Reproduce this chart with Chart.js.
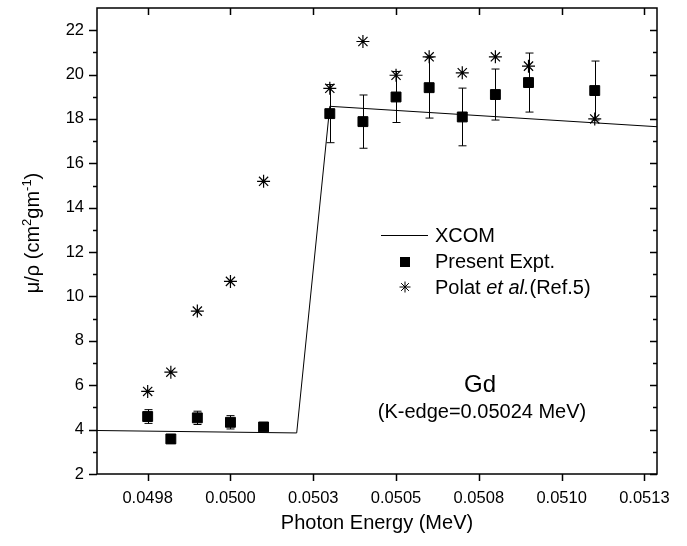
<!DOCTYPE html>
<html>
<head>
<meta charset="utf-8">
<script src="https://cdn.jsdelivr.net/npm/chart.js@4"></script>
<style>
  body { margin: 0; background: #fff; }
</style>
</head>
<body>
<canvas id="chart" width="687" height="546"></canvas>
<script>
// XCOM theory line
const xcomX = [0.049597, 0.05020, 0.05030, 0.051288]
const xcomY = [3.96, 3.85, 18.57, 17.65]

// present experiment
const presentX = [0.04975, 0.04982, 0.04990, 0.05000, 0.05010, 0.05030, 0.05040, 0.05050, 0.05060, 0.05070, 0.05080, 0.05090, 0.05110]
const presentY = [4.59, 3.58, 4.53, 4.33, 4.12, 18.24, 17.88, 18.99, 19.41, 18.09, 19.10, 19.64, 19.28]
const presentErr = [0.31, 0.2, 0.3, 0.3, 0.15, 1.31, 1.2, 1.15, 1.37, 1.3, 1.15, 1.33, 1.33]

// Polat et al. (Ref.5)
const polatX = presentX
const polatY = [5.72, 6.59, 9.34, 10.68, 15.19, 19.38, 21.49, 19.97, 20.8, 20.08, 20.8, 20.38, 18.0]

const xTicks = [0.04975, 0.05000, 0.05025, 0.05050, 0.05075, 0.05100, 0.05125]
const xTickLabels = ["0.0498", "0.0500", "0.0503", "0.0505", "0.0508", "0.0510", "0.0513"]
const yTicks = [2, 4, 6, 8, 10, 12, 14, 16, 18, 20, 22]
const yMinorTicks = [3, 5, 7, 9, 11, 13, 15, 17, 19, 21]

const FONT = "'Liberation Sans', Arial, sans-serif"

function pts(xs, ys) {
    return xs.map((v, i) => ({x: v, y: ys[i]}))
}

// frame, mirror ticks, error bars, legend and labels
const decorations = {
    id: "decorations",
    beforeDatasetsDraw(chart) {
        const {ctx, scales: {x, y}} = chart
        ctx.save()
        ctx.strokeStyle = "#000"
        ctx.lineWidth = 1
        presentX.forEach((v, i) => {
            const px = Math.round(x.getPixelForValue(v)) + 0.5
            const top = y.getPixelForValue(presentY[i] + presentErr[i])
            const bot = y.getPixelForValue(presentY[i] - presentErr[i])
            ctx.beginPath()
            ctx.moveTo(px, top); ctx.lineTo(px, bot)
            ctx.moveTo(px - 4, top); ctx.lineTo(px + 4, top)
            ctx.moveTo(px - 4, bot); ctx.lineTo(px + 4, bot)
            ctx.stroke()
        })
        ctx.restore()
    },
    afterDraw(chart) {
        const {ctx, chartArea: a, scales: {x, y}} = chart
        ctx.save()
        ctx.strokeStyle = "#000"
        ctx.lineWidth = 1.5
        ctx.strokeRect(a.left, a.top, a.right - a.left, a.bottom - a.top)

        ctx.beginPath()
        xTicks.forEach(v => {
            const px = Math.round(x.getPixelForValue(v)) + 0.5
            ctx.moveTo(px, a.bottom); ctx.lineTo(px, a.bottom + 7)
            ctx.moveTo(px, a.top); ctx.lineTo(px, a.top + 7)
        })
        yTicks.forEach(v => {
            const py = Math.round(y.getPixelForValue(v)) + 0.5
            ctx.moveTo(a.left - 8, py); ctx.lineTo(a.left, py)
            ctx.moveTo(a.right, py); ctx.lineTo(a.right - 7, py)
        })
        yMinorTicks.forEach(v => {
            const py = Math.round(y.getPixelForValue(v)) + 0.5
            ctx.moveTo(a.left - 4, py); ctx.lineTo(a.left, py)
            ctx.moveTo(a.right, py); ctx.lineTo(a.right - 4, py)
        })
        ctx.stroke()

        // y title with superscripts
        ctx.fillStyle = "#000"
        ctx.translate(32, 233)
        ctx.rotate(-Math.PI / 2)
        const parts = [["μ/ρ (cm", 20, 0], ["2", 13, -8], ["gm", 20, 0], ["-1", 13, -8], [")", 20, 0]]
        ctx.textBaseline = "alphabetic"
        let w = 0
        parts.forEach(p => { ctx.font = p[1] + "px " + FONT; w += ctx.measureText(p[0]).width })
        let cx = -w / 2
        parts.forEach(p => {
            ctx.font = p[1] + "px " + FONT
            ctx.fillText(p[0], cx, 7 + p[2])
            cx += ctx.measureText(p[0]).width
        })
        ctx.setTransform(1, 0, 0, 1, 0, 0)

        // legend
        ctx.lineWidth = 1
        ctx.beginPath()
        ctx.moveTo(381, 235.5); ctx.lineTo(428, 235.5)
        ctx.stroke()
        ctx.fillRect(400, 257, 10, 10)
        ctx.beginPath()
        const sx = 405, sy = 287, r = 5.5
        ctx.moveTo(sx - r, sy); ctx.lineTo(sx + r, sy)
        ctx.moveTo(sx, sy - r); ctx.lineTo(sx, sy + r)
        const d = r * Math.SQRT1_2
        ctx.moveTo(sx - d, sy - d); ctx.lineTo(sx + d, sy + d)
        ctx.moveTo(sx - d, sy + d); ctx.lineTo(sx + d, sy - d)
        ctx.stroke()

        ctx.textBaseline = "middle"
        ctx.textAlign = "left"
        ctx.font = "20px " + FONT
        ctx.fillText("XCOM", 435, 236)
        ctx.fillText("Present Expt.", 435, 262)
        let tx = 435
        const seg = [["Polat ", "20px "], ["et al.", "italic 20px "], ["(Ref.5)", "20px "]]
        seg.forEach(s => {
            ctx.font = s[1] + FONT
            ctx.fillText(s[0], tx, 288)
            tx += ctx.measureText(s[0]).width
        })

        ctx.textAlign = "center"
        ctx.font = "24px " + FONT
        ctx.fillText("Gd", 480, 385)
        ctx.font = "20px " + FONT
        ctx.fillText("(K-edge=0.05024 MeV)", 482, 412)
        ctx.restore()
    }
}

new Chart(document.getElementById("chart").getContext("2d"), {
    type: "scatter",
    data: {
        datasets: [
            {
                label: "XCOM",
                data: pts(xcomX, xcomY),
                showLine: true,
                pointRadius: 0,
                borderColor: "#000",
                borderWidth: 1
            },
            {
                label: "Present Expt.",
                data: pts(presentX, presentY),
                pointStyle: "rect",
                pointRadius: 7,
                backgroundColor: "#000",
                borderColor: "#000",
                borderWidth: 1
            },
            {
                label: "Polat et al.(Ref.5)",
                data: pts(polatX, polatY),
                pointStyle: "star",
                pointRadius: 6.5,
                backgroundColor: "#000",
                borderColor: "#000",
                borderWidth: 1.2
            }
        ]
    },
    options: {
        responsive: false,
        animation: false,
        layout: { padding: { top: 8, right: 30, left: 0, bottom: 0 } },
        plugins: {
            legend: { display: false },
            tooltip: { enabled: false }
        },
        scales: {
            x: {
                type: "linear",
                min: 0.049597,
                max: 0.051288,
                afterFit: s => { s.height = 72; s.paddingLeft = 0; s.paddingRight = 0 },
                afterBuildTicks: s => { s.ticks = xTicks.map(v => ({value: v})) },
                grid: { display: true, drawOnChartArea: false, drawTicks: false },
                border: { display: false },
                ticks: {
                    padding: 15,
                    color: "#000",
                    font: { family: FONT, size: 16.5 },
                    maxRotation: 0,
                    autoSkip: false,
                    callback: (v, i) => xTickLabels[i]
                },
                title: {
                    display: true,
                    text: "Photon Energy (MeV)",
                    color: "#000",
                    font: { family: FONT, size: 20 },
                    padding: { top: 0, bottom: 11 }
                }
            },
            y: {
                min: 2,
                max: 23,
                afterFit: s => { s.width = 97; s.paddingTop = 0; s.paddingBottom = 0 },
                afterBuildTicks: s => { s.ticks = yTicks.map(v => ({value: v})) },
                grid: { display: true, drawOnChartArea: false, drawTicks: false },
                border: { display: false },
                ticks: {
                    padding: 13,
                    color: "#000",
                    font: { family: FONT, size: 16.5 },
                    autoSkip: false
                }
            }
        }
    },
    plugins: [decorations]
})
</script>
</body>
</html>
